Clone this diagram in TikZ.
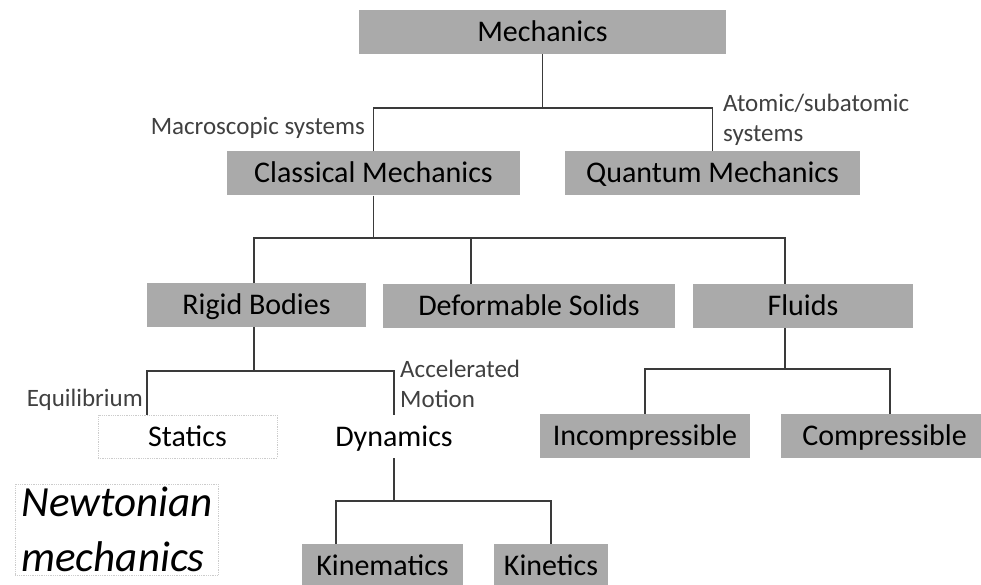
\documentclass[tikz,border=0pt]{standalone}
\usepackage{fontspec}
\setmainfont{Carlito}
\usetikzlibrary{positioning, calc}
\definecolor{boxfill}{RGB}{170,170,170}
\definecolor{wire}{RGB}{58,58,58}
\definecolor{note}{RGB}{64,64,64}
\definecolor{faint}{gray}{0.80}

\begin{document}
\begin{tikzpicture}[
  x=1pt, y=-1pt,
  box/.style={fill=boxfill, minimum height=44pt, inner sep=0pt,
              text height=21pt, text depth=2pt,
              font=\fontsize{30}{36}\selectfont},
  ghost/.style={draw=faint, densely dotted, line width=.8pt,
                minimum height=43pt, inner sep=0pt,
                text height=21pt, text depth=2pt,
                font=\fontsize{30}{36}\selectfont},
  note/.style={text=note, inner sep=0pt, align=left,
               font=\fontsize{25}{30}\selectfont},
  link/.style={draw=wire, line width=1.6pt},
]
\useasboundingbox (0,0) rectangle (981,585);

% boxes
\node[box, minimum width=367pt] (mech) at (542.5,32) {Mechanics};
\node[box, minimum width=293pt] (classical) at (373.5,173.5) {Classical Mechanics};
\node[box, minimum width=295pt] (quantum) at (712.5,173.5) {Quantum Mechanics};
\node[box, minimum width=219pt] (rigid) at (256.5,305) {Rigid Bodies};
\node[box, minimum width=292pt] (deform) at (529,306) {Deformable Solids};
\node[box, minimum width=220pt] (fluids) at (803,306) {Fluids};
\node[ghost, minimum width=179pt] (statics) at (187.5,436.5) {Statics};
\node[ghost, minimum width=170pt, draw=none] (dynamics) at (394,436.5) {Dynamics};
\node[box, minimum width=210pt] (incomp) at (645,436) {Incompressible};
\node[box, minimum width=207pt] (comp) at (884.5,436) {Compressible};
\node[box, minimum width=161pt] (kinem) at (382.5,566) {Kinematics};
\node[box, minimum width=114pt] (kinet) at (551,566) {Kinetics};

% side notes
\node[note, anchor=base east] (macro) at (365,135) {Macroscopic systems};
\node[note, anchor=west] (atomic) at (723,120) {Atomic/subatomic\\systems};
\node[note, anchor=base east] (equil) at (143,406) {Equilibrium};
\node[note, anchor=west] (accel) at (400,384) {Accelerated\\Motion};
\node[ghost, anchor=north west, align=left, minimum height=0pt,
      text height=, text depth=, inner xsep=6pt, inner ysep=3pt,
      font=\fontsize{43}{55}\selectfont\itshape] (newton) at (15,484)
  {Newtonian\\mechanics};

% Mechanics
\coordinate (j1) at (542.5,108);
\draw[link] (mech.south) -- (j1);
\draw[link] (classical.north) |- (j1) -| (quantum.north);

% Classical
\coordinate (j2) at (373.5,238);
\draw[link] (classical.south) -- (j2);
\draw[link] ($(rigid.north)+(-2.5,0)$) |- (j2) -| ($(fluids.north)+(-18,0)$);
\draw[link] ($(deform.north)+(-58,0)$) |- (j2);

% Rigid bodies
\coordinate (j3) at (254,371);
\draw[link] ($(rigid.south)+(-2.5,0)$) -- (j3);
\draw[link] ($(statics.north)+(-40.5,0)$) |- (j3) -| (dynamics.north);

% Fluids
\coordinate (j4) at (785,369);
\draw[link] ($(fluids.south)+(-18,0)$) -- (j4);
\draw[link] (incomp.north) |- (j4) -| ($(comp.north)+(5.5,0)$);

% Dynamics
\coordinate (j5) at (394,501);
\draw[link] (dynamics.south) -- (j5);
\draw[link] ($(kinem.north)+(-46.5,0)$) |- (j5) -| (kinet.north);
\end{tikzpicture}
\end{document}
